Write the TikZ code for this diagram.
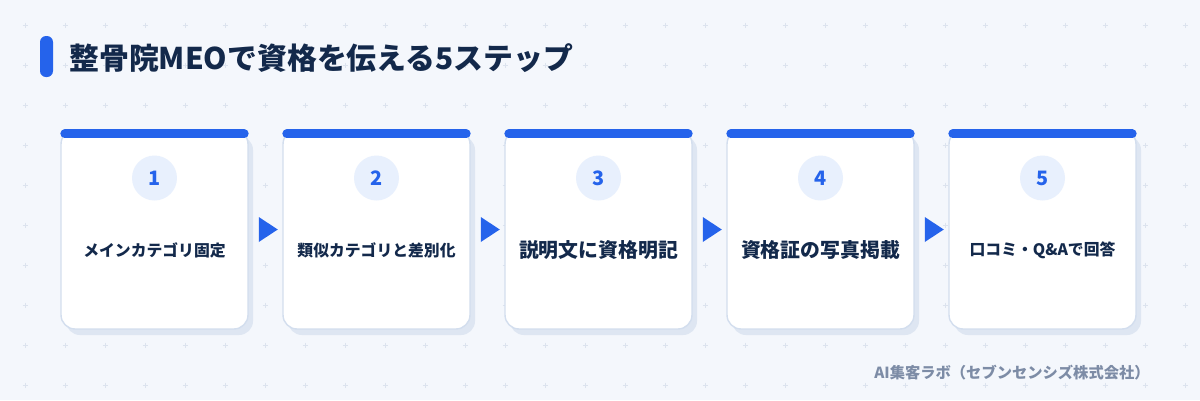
\documentclass[tikz,border=0pt]{standalone}
\usepackage{fontspec}
\setmainfont{Noto Sans CJK JP}
\usetikzlibrary{calc}
\usetikzlibrary{shapes.geometric}
\definecolor{pagebg}{HTML}{F4F7FC}
\definecolor{gridmark}{HTML}{DCE3EE}
\definecolor{brandblue}{HTML}{2563EB}
\definecolor{inkdark}{HTML}{13294B}
\definecolor{cardline}{HTML}{D3DEEE}
\definecolor{cardshade}{HTML}{DEE6F2}
\definecolor{numfill}{HTML}{E8F0FD}
\definecolor{creditgray}{HTML}{7D8CA6}
\def\cardw{187}
\def\pitch{222}

\begin{document}
\begin{tikzpicture}[x=0.02cm,y=-0.02cm,
  card/.style={draw=cardline,line width=0.8pt,fill=white,rounded corners=0.28cm,
    minimum width=3.74cm,minimum height=3.98cm,inner sep=0pt},
  topbar/.style={brandblue,line width=0.18cm,line cap=round},
  numcirc/.style={circle,fill=numfill,minimum size=0.9cm,inner sep=0pt,
    text=brandblue,font=\fontsize{11.3pt}{12pt}\selectfont\bfseries},
  steplabel/.style={text=inkdark,inner sep=0pt},
  nexttri/.style={isosceles triangle,isosceles triangle stretches,fill=brandblue,
    minimum height=0.38cm,minimum width=0.5cm,inner sep=0pt}]

\useasboundingbox (0,0) rectangle (1200,400);
\fill[pagebg] (0,0) rectangle (1200,400);

% dotted grid
\foreach \gx in {25,65,...,1185}
  \foreach \gy in {25,65,...,385}
    \draw[gridmark,line width=0.5pt] (\gx-2.5,\gy) -- (\gx+2.5,\gy) (\gx,\gy-2.5) -- (\gx,\gy+2.5);

% heading
\fill[brandblue,rounded corners=0.12cm] (40,36) rectangle (53,77);
\node[anchor=west,inner sep=0pt,text=inkdark,font=\fontsize{17pt}{18pt}\selectfont\bfseries]
  (title) at (69,58) {整骨院MEOで資格を伝える5ステップ};

% the five steps
\foreach \i/\txt/\fs in {1/メインカテゴリ固定/9,2/類似カテゴリと差別化/9,
    3/説明文に資格明記/11.3,4/資格証の写真掲載/11.3,5/口コミ・Q\&Aで回答/9}{
  \pgfmathsetmacro\cx{154.5+\pitch*(\i-1)}
  \fill[cardshade,rounded corners=0.28cm] (\cx-\cardw/2+5,136) rectangle (\cx+\cardw/2+5,335);
  \node[card] (c\i) at (\cx,229.5) {};
  \draw[topbar] ($(c\i.north west)+(4.5,4.5)$) -- ($(c\i.north east)+(-4.5,4.5)$);
  \node[numcirc] (n\i) at (\cx,178) {\i};
  \node[steplabel,font=\fontsize{\fs pt}{\fs pt}\selectfont\bfseries] (l\i) at (\cx,250) {\txt};
}

\foreach \i [evaluate=\i as \j using int(\i+1)] in {1,...,4}
  \node[nexttri] (t\i) at ($(c\i.east)!0.5!(c\j.west)$) {};

\node[anchor=east,inner sep=0pt,text=creditgray,font=\fontsize{8.7pt}{9pt}\selectfont\bfseries]
  (credit) at (1150,373) {AI集客ラボ（セブンセンシズ株式会社）};

\end{tikzpicture}
\end{document}
